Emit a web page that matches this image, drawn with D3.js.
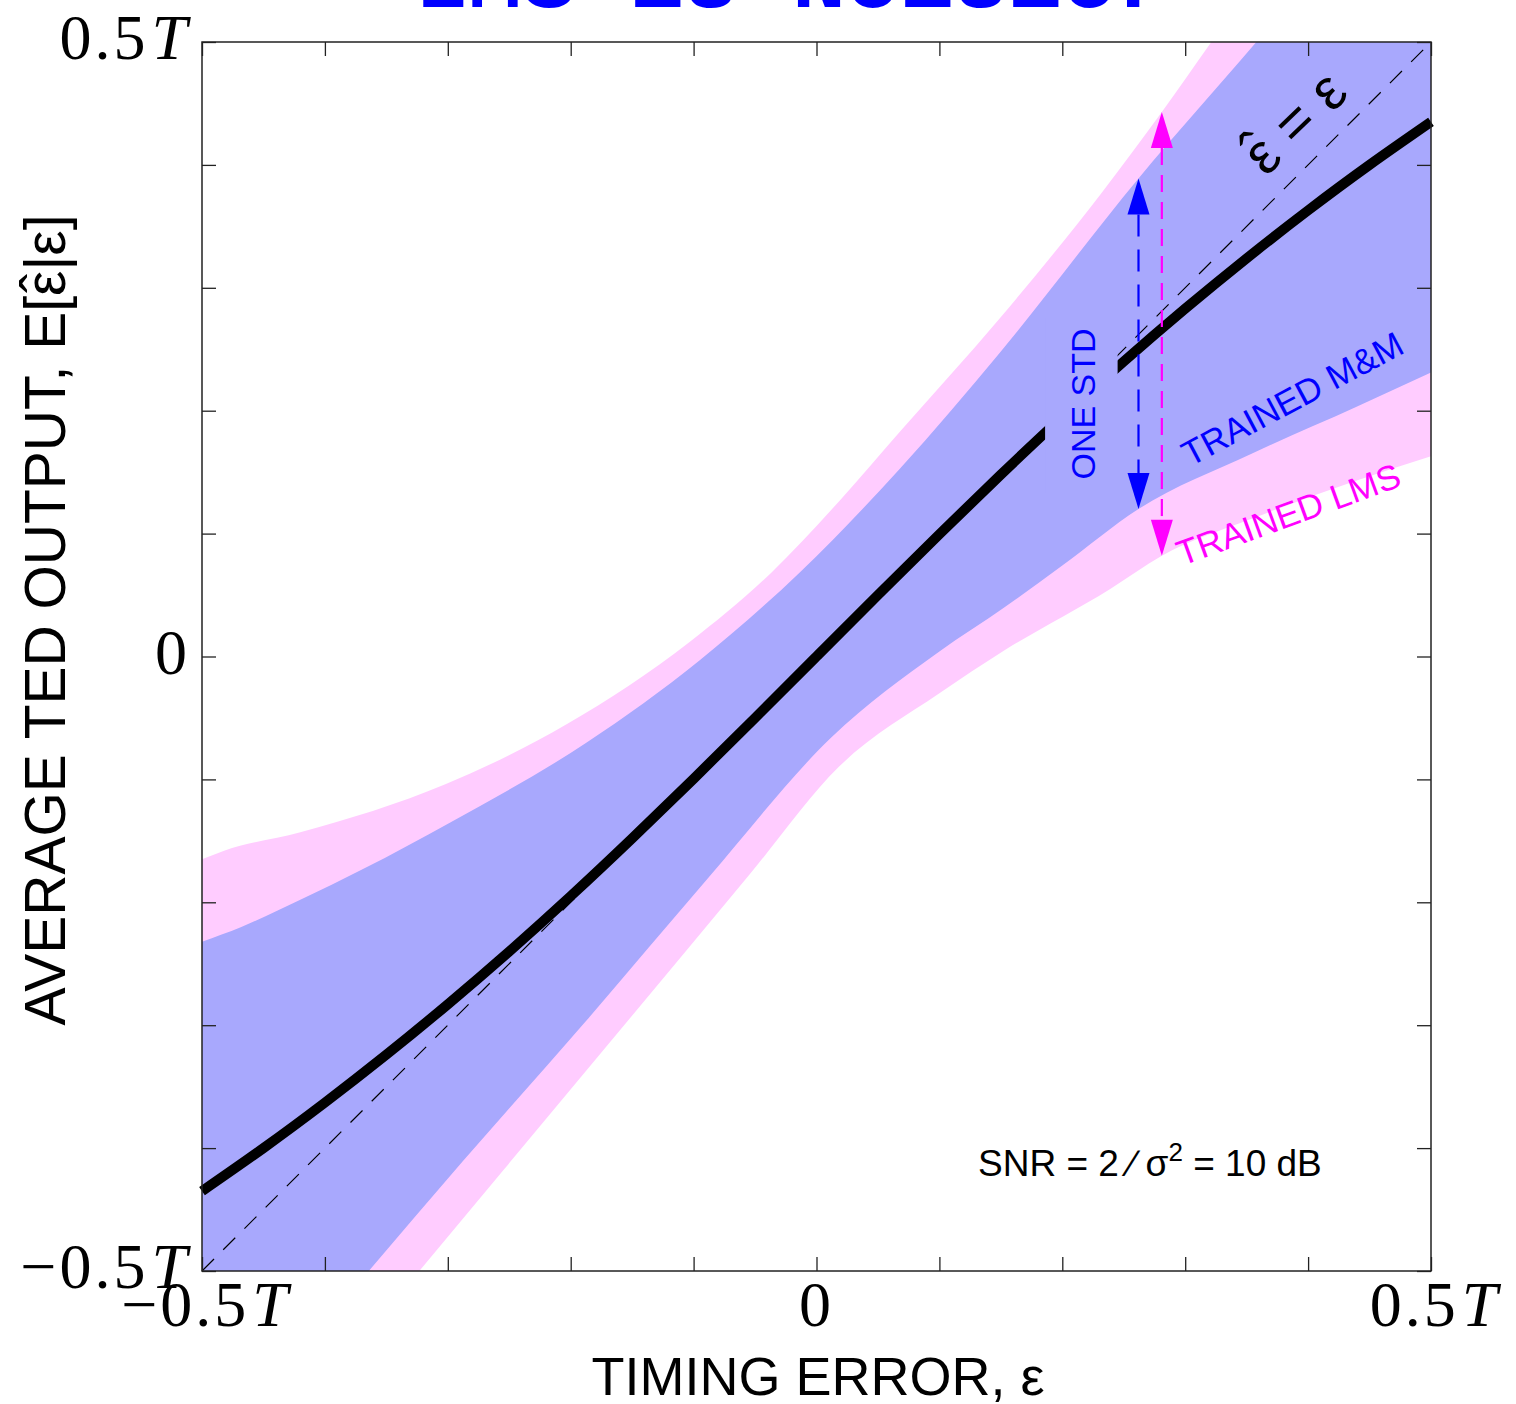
<!DOCTYPE html>
<html>
<head>
<meta charset="utf-8">
<script src="https://cdn.jsdelivr.net/npm/d3@7"></script>
<style>
  html, body { margin: 0; padding: 0; background: #fff; }
  svg { display: block; }
</style>
</head>
<body>
<svg id="chart" width="1516" height="1404"></svg>
<script>
// ---- data (timing error e and TED output v, both in units of T) ----
const curveE = [-0.5, -0.45, -0.4, -0.35, -0.3, -0.25, -0.2, -0.15, -0.1, -0.05, 0,
                0.05, 0.1, 0.15, 0.2, 0.25, 0.3, 0.35, 0.4, 0.45, 0.5];
const curveV = [-0.435, -0.400, -0.363, -0.324, -0.283, -0.240, -0.195, -0.148, -0.0995, -0.050, 0,
                0.050, 0.0995, 0.148, 0.195, 0.240, 0.283, 0.324, 0.363, 0.400, 0.435];

// one-std band of the trained LMS detector
const lmsUpperE = [-0.5, -0.482, -0.42, -0.302, -0.203, -0.103, -0.037, 0.019, 0.068, 0.149, 0.231, 0.281, 0.322, 0.394, 0.5];
const lmsUpperV = [-0.165, -0.158, -0.143, -0.104, -0.055, 0.012, 0.068, 0.127, 0.183, 0.275, 0.376, 0.443, 0.501, 0.599, 0.746];
const lmsLowerE = [-0.5, -0.329, -0.254, -0.154, -0.055, 0.018, 0.10, 0.153, 0.239, 0.281, 0.354, 0.439, 0.5];
const lmsLowerV = [-0.712, -0.507, -0.417, -0.297, -0.178, -0.090, -0.030, 0.005, 0.055, 0.082, 0.112, 0.143, 0.163];

// one-std band of the trained M&M detector
const mmUpperE = [-0.5, -0.468, -0.42, -0.369, -0.298, -0.187, -0.095, -0.013, 0.068, 0.149, 0.262, 0.357, 0.5];
const mmUpperV = [-0.232, -0.220, -0.198, -0.173, -0.135, -0.070, -0.003, 0.069, 0.153, 0.247, 0.389, 0.499, 0.670];
const mmLowerE = [-0.5, -0.366, -0.288, -0.187, -0.088, 0.012, 0.10, 0.153, 0.20, 0.262, 0.354, 0.439, 0.5];
const mmLowerV = [-0.66, -0.502, -0.411, -0.296, -0.180, -0.066, 0.004, 0.040, 0.074, 0.120, 0.165, 0.203, 0.231];

// one-std arrows: [e, v from, v to]
const mmStdArrow = [0.262, 0.120, 0.389];
const lmsStdArrow = [0.281, 0.082, 0.443];

// e-range where the "ONE STD" note sits over the curves
const noteRangeE = [0.186, 0.245];

const tickVals = [-0.5, -0.4, -0.3, -0.2, -0.1, 0, 0.1, 0.2, 0.3, 0.4, 0.5];
const labelVals = [-0.5, 0, 0.5];
const labelNum = ["\u22120.5", "0", "0.5"];
const labelUnit = ["T", "", "T"];

// ---- layout ----
const svg = d3.select("#chart");
const x = d3.scaleLinear().domain([-0.5, 0.5]).range([202, 1431]);
const y = d3.scaleLinear().domain([-0.5, 0.5]).range([1271, 42]);
const pink = "#ffccff", lav = "#a8a8fd", blue = "#0000ff", mag = "#ff00ff";
const sans = "Liberation Sans, Arial, Helvetica, sans-serif";
const serif = "Liberation Serif, Times New Roman, serif";

const zip = (es, vs) => es.map((e, i) => [e, vs[i]]);
const edge = d3.line().x(d => x(d[0])).y(d => y(d[1])).curve(d3.curveMonotoneX);
function bandPath(ue, uv, le, lv) {
  const up = edge(zip(ue, uv));
  const lo = edge(zip(le, lv).reverse());
  return up + lo.replace(/^M/, "L") + "Z";
}

// width of a string in a given font, used to place the hat accents
const meas = svg.append("text").attr("visibility", "hidden");
function textWidth(str, size, family) {
  meas.attr("font-size", size).attr("font-family", family).text(str);
  return meas.node().getComputedTextLength();
}
// appends "ε" with a circumflex centred above it
function hatEps(textSel, size, family, hatLift) {
  const we = textWidth("\u03b5", size, family);
  const wh = textWidth("\u02c6", size, family);
  textSel.append("tspan").text("\u03b5");
  textSel.append("tspan").attr("dx", -(we + wh) / 2).attr("dy", -hatLift).text("\u02c6");
  return { dx: (we - wh) / 2, dy: hatLift };
}

svg.append("defs").append("clipPath").attr("id", "plotclip")
  .append("rect").attr("x", x(-0.5)).attr("y", y(0.5))
  .attr("width", x(0.5) - x(-0.5)).attr("height", y(-0.5) - y(0.5));

// title (runs off the top edge)
svg.append("text").attr("x", 792).attr("y", 7).attr("text-anchor", "middle")
  .attr("font-family", "Liberation Mono, Courier New, monospace").attr("font-weight", "bold")
  .attr("font-size", 90).attr("fill", blue).text("LMS is Noisier");

const bands = svg.append("g").attr("clip-path", "url(#plotclip)");
bands.append("path").attr("d", bandPath(lmsUpperE, lmsUpperV, lmsLowerE, lmsLowerV)).attr("fill", pink);
bands.append("path").attr("d", bandPath(mmUpperE, mmUpperV, mmLowerE, mmLowerV)).attr("fill", lav);

// reference line e_hat = e
svg.append("line")
  .attr("x1", x(-0.5)).attr("y1", y(-0.5)).attr("x2", x(0.5)).attr("y2", y(0.5))
  .attr("stroke", "#000").attr("stroke-width", 1.2).attr("stroke-dasharray", "17,13");

// average TED output
svg.append("path").datum(zip(curveE, curveV))
  .attr("d", d3.line().x(d => x(d[0])).y(d => y(d[1])).curve(d3.curveNatural))
  .attr("fill", "none").attr("stroke", "#000").attr("stroke-width", 10);

// backing box for the "ONE STD" note
svg.append("rect")
  .attr("x", x(noteRangeE[0])).attr("width", x(noteRangeE[1]) - x(noteRangeE[0]))
  .attr("y", 318).attr("height", 175).attr("fill", lav);

// frame and inward ticks
const frame = svg.append("g");
frame.append("g").attr("transform", `translate(0,${y(-0.5)})`)
  .call(d3.axisBottom(x).tickValues(tickVals).tickSizeInner(-14).tickSizeOuter(0).tickFormat(""));
frame.append("g").attr("transform", `translate(0,${y(0.5)})`)
  .call(d3.axisTop(x).tickValues(tickVals).tickSizeInner(-14).tickSizeOuter(0).tickFormat(""));
frame.append("g").attr("transform", `translate(${x(-0.5)},0)`)
  .call(d3.axisLeft(y).tickValues(tickVals).tickSizeInner(-14).tickSizeOuter(0).tickFormat(""));
frame.append("g").attr("transform", `translate(${x(0.5)},0)`)
  .call(d3.axisRight(y).tickValues(tickVals).tickSizeInner(-14).tickSizeOuter(0).tickFormat(""));
frame.selectAll(".domain").remove();
frame.selectAll("line").attr("stroke", "#222").attr("stroke-width", 1.3);
frame.append("rect").attr("x", x(-0.5)).attr("y", y(0.5))
  .attr("width", x(0.5) - x(-0.5)).attr("height", y(-0.5) - y(0.5))
  .attr("fill", "none").attr("stroke", "#222").attr("stroke-width", 1.5);

// tick labels
function tickLabel(g, i) {
  g.append("tspan").text(labelNum[i]);
  if (labelUnit[i]) g.append("tspan").attr("font-style", "italic").attr("dx", 3).text(labelUnit[i]);
}
labelVals.forEach((v, i) => {
  const t = svg.append("text").attr("x", x(v) + (labelUnit[i] ? 4 : 0)).attr("y", 1326).attr("text-anchor", "middle")
    .attr("font-family", serif).attr("font-size", 64).attr("letter-spacing", 3);
  tickLabel(t, i);
});
labelVals.forEach((v, i) => {
  const t = svg.append("text").attr("x", 190).attr("y", y(v) + 17).attr("text-anchor", "end")
    .attr("font-family", serif).attr("font-size", 64).attr("letter-spacing", 3);
  tickLabel(t, i);
});

// axis titles
svg.append("text").attr("x", 818).attr("y", 1395).attr("text-anchor", "middle")
  .attr("font-family", sans).attr("font-size", 54).attr("fill", "#000")
  .text("TIMING ERROR, \u03b5");

const yTitle = svg.append("text").attr("transform", "translate(65,620) rotate(-90)")
  .attr("text-anchor", "middle")
  .attr("font-family", sans).attr("font-size", 57).attr("fill", "#000");
yTitle.append("tspan").text("AVERAGE TED OUTPUT, E[");
const yHat = hatEps(yTitle, 57, sans, 4);
yTitle.append("tspan").attr("dx", yHat.dx).attr("dy", yHat.dy).text("|\u03b5]");

// e_hat = e note along the diagonal
const diagNote = svg.append("text").attr("transform", "translate(1296,124) rotate(-44)")
  .attr("text-anchor", "middle").attr("dy", "0.3em")
  .attr("font-family", sans).attr("font-size", 58).attr("fill", "#000");
const dHat = hatEps(diagNote, 58, sans, 6);
diagNote.append("tspan").attr("dx", dHat.dx).attr("dy", dHat.dy).text(" = \u03b5");

// one-std arrows
function stdArrow(a, color, dash) {
  const g = svg.append("g");
  const ex = x(a[0]), yLo = y(a[1]), yHi = y(a[2]);
  const head = 36, hw = 11;
  g.append("line").attr("x1", ex).attr("x2", ex).attr("y1", yHi + head).attr("y2", yLo - head)
    .attr("stroke", color).attr("stroke-width", 2.2).attr("stroke-dasharray", dash);
  g.append("path").attr("d", `M${ex},${yHi}L${ex - hw},${yHi + head}L${ex + hw},${yHi + head}Z`).attr("fill", color);
  g.append("path").attr("d", `M${ex},${yLo}L${ex - hw},${yLo - head}L${ex + hw},${yLo - head}Z`).attr("fill", color);
}
stdArrow(lmsStdArrow, mag, "17,10");
stdArrow(mmStdArrow, blue, "22,13");

// annotations
svg.append("text").attr("transform", "translate(1095,404) rotate(-90)").attr("text-anchor", "middle")
  .attr("font-family", sans).attr("font-size", 34).attr("fill", blue).text("ONE STD");
svg.append("text").attr("transform", "translate(1190,467) rotate(-28)")
  .attr("font-family", sans).attr("font-size", 35).attr("fill", blue).text("TRAINED M&M");
svg.append("text").attr("transform", "translate(1182,566) rotate(-20)")
  .attr("font-family", sans).attr("font-size", 35).attr("fill", mag).text("TRAINED LMS");

const snr = svg.append("text").attr("x", 978).attr("y", 1176)
  .attr("font-family", sans).attr("font-size", 37).attr("fill", "#000");
snr.append("tspan").text("SNR = 2 \u2215 \u03c3");
snr.append("tspan").attr("font-size", 26).attr("dy", -15).text("2");
snr.append("tspan").attr("dy", 15).text(" = 10 dB");
</script>
</body>
</html>
